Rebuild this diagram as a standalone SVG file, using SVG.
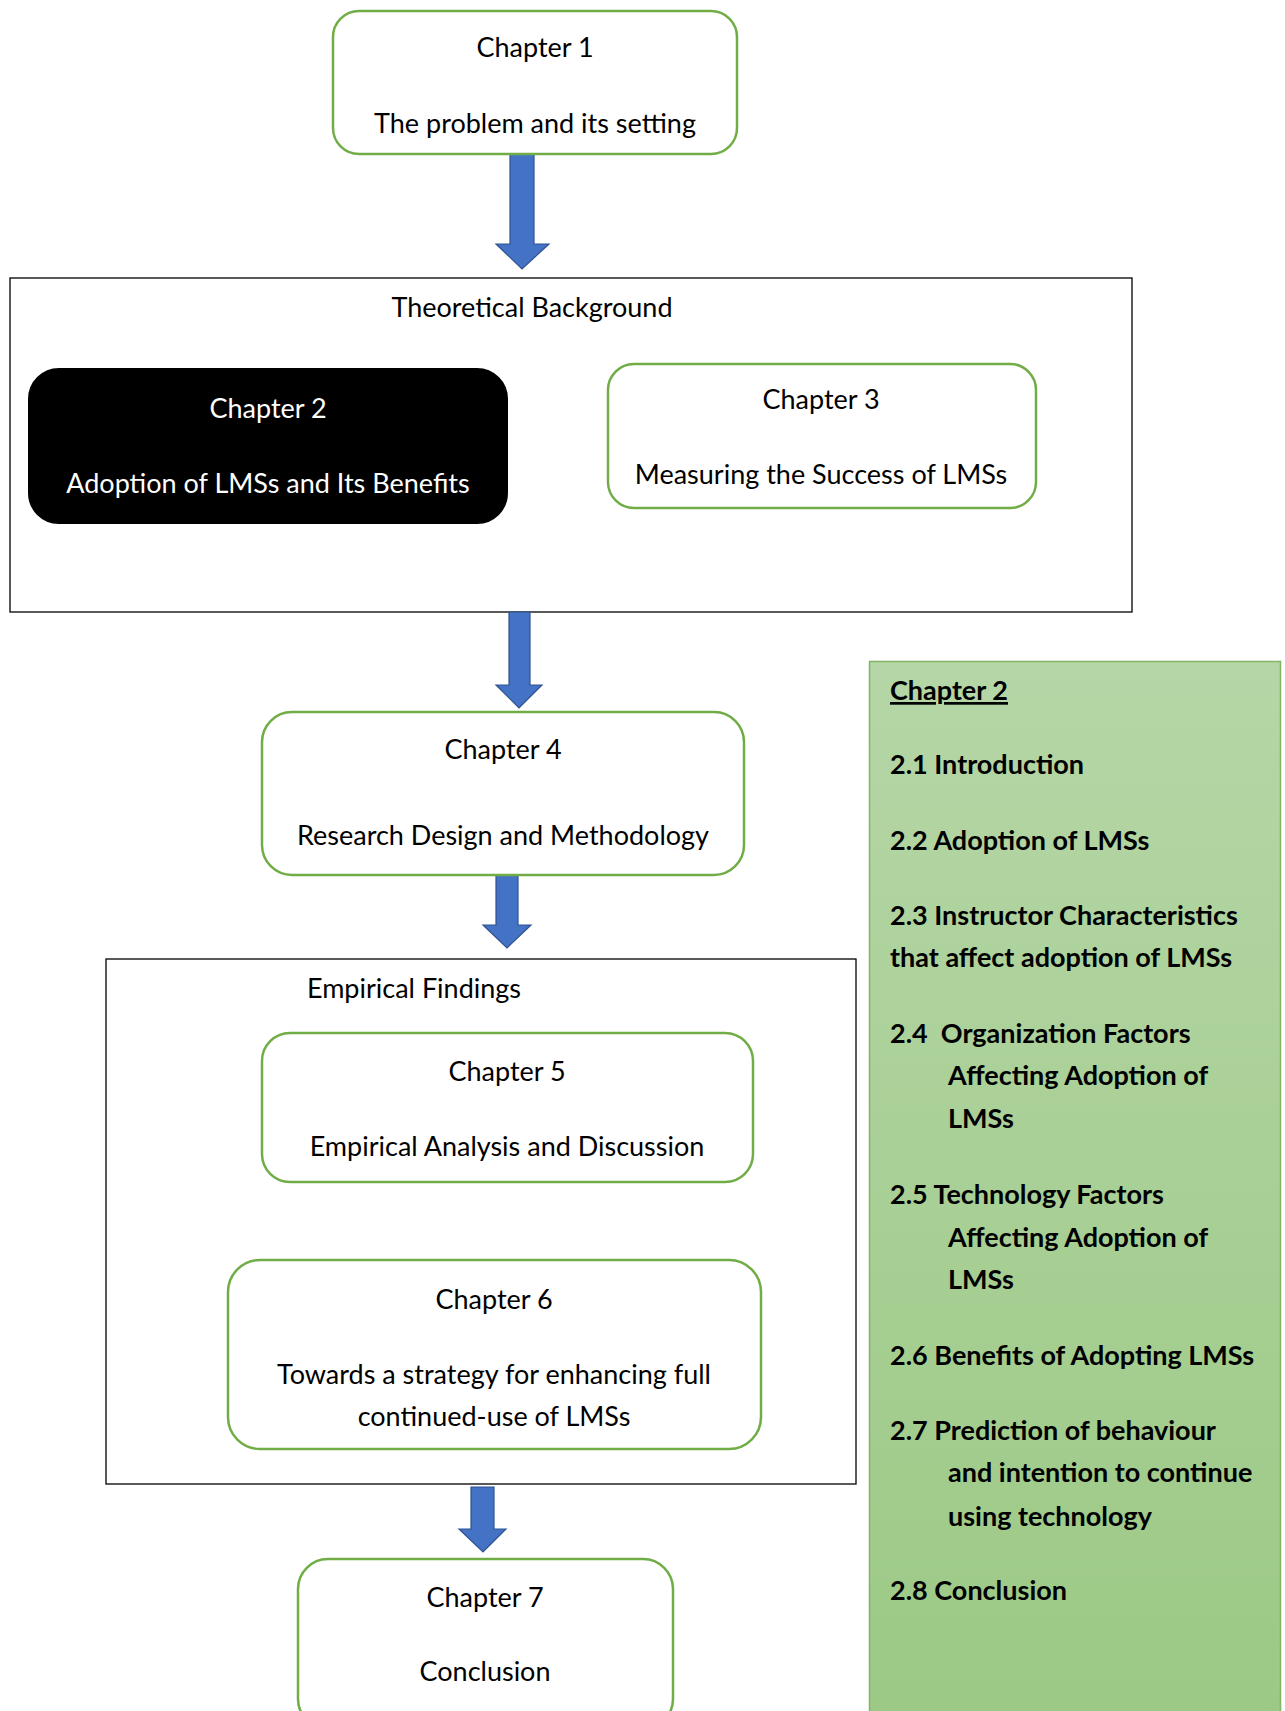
<svg xmlns="http://www.w3.org/2000/svg" width="1285" height="1711" viewBox="0 0 1285 1711">
<defs>
<linearGradient id="panelGrad" x1="0" y1="0" x2="0" y2="1">
<stop offset="0" stop-color="#b5d6a6"/>
<stop offset="1" stop-color="#9cc985"/>
</linearGradient>
</defs>
<style>
.node{fill:#ffffff;stroke:#70ad47;stroke-width:2.5}
.dark{fill:#000000;stroke:#000000;stroke-width:2}
.frame{fill:#ffffff;stroke:#000000;stroke-width:1.3}
.arrow{fill:#4472c4;stroke:#2f528f;stroke-width:1.2}
text{font-family:Lato,"Liberation Sans",sans-serif;font-size:27px;fill:#000000}
.c{text-anchor:middle}
.w{fill:#ffffff}
.b{font-weight:bold;font-size:27px}
.u{text-decoration:underline}
</style>
<rect width="1285" height="1711" fill="#ffffff"/>

<g id="theoretical-background">
<rect class="frame" x="10" y="278" width="1122" height="334"/>
<text class="c" x="532" y="317">Theoretical Background</text>
</g>

<g id="empirical-findings">
<rect class="frame" x="106" y="959" width="750" height="525"/>
<text class="c" x="414" y="998">Empirical Findings</text>
</g>

<g id="chapter2-panel">
<rect x="869.5" y="661.5" width="411" height="1060" fill="url(#panelGrad)" stroke="#82b366" stroke-width="1.5"/>
<text class="b u" x="890" y="700">Chapter 2</text>
<text class="b" x="890" y="774">2.1 Introduction</text>
<text class="b" x="890" y="850">2.2 Adoption of LMSs</text>
<text class="b" x="890" y="925">2.3 Instructor Characteristics</text>
<text class="b" x="890" y="967">that affect adoption of LMSs</text>
<text class="b" x="890" y="1043" xml:space="preserve">2.4  Organization Factors</text>
<text class="b" x="948" y="1085">Affecting Adoption of</text>
<text class="b" x="948" y="1128">LMSs</text>
<text class="b" x="890" y="1204">2.5 Technology Factors</text>
<text class="b" x="948" y="1247">Affecting Adoption of</text>
<text class="b" x="948" y="1289">LMSs</text>
<text class="b" x="890" y="1365">2.6 Benefits of Adopting LMSs</text>
<text class="b" x="890" y="1440">2.7 Prediction of behaviour</text>
<text class="b" x="948" y="1482">and intention to continue</text>
<text class="b" x="948" y="1526">using technology</text>
<text class="b" x="890" y="1600">2.8 Conclusion</text>
</g>

<g id="connectors">
<polygon class="arrow" points="510,154 534,154 534,244 549,244 522,269 496,244 510,244"/>
<polygon class="arrow" points="509,612 530,612 530,685 542,685 519,708 496,685 509,685"/>
<polygon class="arrow" points="496,875 518,875 518,925 531,925 507,948 483,925 496,925"/>
<polygon class="arrow" points="471,1487 494,1487 494,1529 506,1529 483,1552 459,1529 471,1529"/>
</g>

<g id="chapter1">
<rect class="node" x="333" y="11" width="404" height="143" rx="26"/>
<text class="c" x="535" y="57">Chapter 1</text>
<text class="c" x="535" y="133">The problem and its setting</text>
</g>

<g id="chapter2">
<rect class="dark" x="29" y="369" width="478" height="154" rx="30"/>
<text class="c w" x="268" y="418">Chapter 2</text>
<text class="c w" x="268" y="493">Adoption of LMSs and Its Benefits</text>
</g>

<g id="chapter3">
<rect class="node" x="608" y="364" width="428" height="144" rx="26"/>
<text class="c" x="821" y="409">Chapter 3</text>
<text class="c" x="821" y="484">Measuring the Success of LMSs</text>
</g>

<g id="chapter4">
<rect class="node" x="262" y="712" width="482" height="163" rx="30"/>
<text class="c" x="503" y="759">Chapter 4</text>
<text class="c" x="503" y="845">Research Design and Methodology</text>
</g>

<g id="chapter5">
<rect class="node" x="262" y="1033" width="491" height="149" rx="28"/>
<text class="c" x="507" y="1081">Chapter 5</text>
<text class="c" x="507" y="1156">Empirical Analysis and Discussion</text>
</g>

<g id="chapter6">
<rect class="node" x="228" y="1260" width="533" height="189" rx="32"/>
<text class="c" x="494" y="1309">Chapter 6</text>
<text class="c" x="494" y="1384">Towards a strategy for enhancing full</text>
<text class="c" x="494" y="1426">continued-use of LMSs</text>
</g>

<g id="chapter7">
<rect class="node" x="298" y="1559" width="375" height="170" rx="30"/>
<text class="c" x="485" y="1607">Chapter 7</text>
<text class="c" x="485" y="1681">Conclusion</text>
</g>
</svg>
